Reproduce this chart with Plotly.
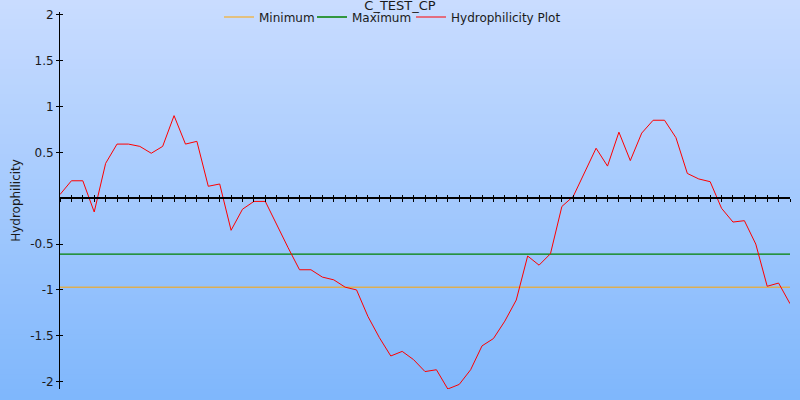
import plotly.graph_objects as go

# ---- data ----
positions = list(range(65))
hydrophilicity = [
    0.04, 0.19, 0.19, -0.15, 0.38, 0.59, 0.59, 0.565, 0.49, 0.565,
    0.90, 0.59, 0.62, 0.13, 0.155, -0.35, -0.12, -0.035, -0.035, -0.29,
    -0.54, -0.78, -0.78, -0.86, -0.89, -0.97, -1.00, -1.29, -1.52, -1.72,
    -1.67, -1.76, -1.89, -1.87, -2.08, -2.03, -1.87, -1.61, -1.53, -1.34,
    -1.11, -0.63, -0.73, -0.605, -0.09, 0.02, 0.29, 0.545, 0.35, 0.72,
    0.41, 0.71, 0.85, 0.85, 0.66, 0.27, 0.21, 0.18, -0.11, -0.26,
    -0.245, -0.50, -0.96, -0.925, -1.15,
]
minimum_value = -0.97
maximum_value = -0.61
y_tick_values = [-2, -1.5, -1, -0.5, 0.5, 1, 1.5, 2]
y_tick_labels = ["-2", "-1.5", "-1", "-0.5", "0.5", "1", "1.5", "2"]
title_text = "C_TEST_CP"
y_title = "Hydrophilicity"
series_names = ["Minimum", "Maximum", "Hydrophilicity Plot"]
series_colors = ["#ffa500", "#008000", "#ff0000"]

# ---- layout constants ----
W, H = 800, 400
M_T, M_B, M_L, M_R = 12, 11, 60, 10
Y_RANGE = [-2.08, 2.03]
X_RANGE = [positions[0], positions[-1]]
plot_h = H - M_T - M_B
zero_pos = (0 - Y_RANGE[0]) / (Y_RANGE[1] - Y_RANGE[0])
legend_x_px = [219, 312, 411]

FONT = "DejaVu Sans"
TXT = "#1a1a1a"

fig = go.Figure()

fig.add_trace(go.Scatter(
    x=[positions[0], positions[-1]], y=[minimum_value, minimum_value],
    mode="lines", name=series_names[0], legend="legend",
    line=dict(color=series_colors[0], width=1),
))
fig.add_trace(go.Scatter(
    x=[positions[0], positions[-1]], y=[maximum_value, maximum_value],
    mode="lines", name=series_names[1], legend="legend2",
    line=dict(color=series_colors[1], width=1.3),
))
fig.add_trace(go.Scatter(
    x=positions, y=hydrophilicity,
    mode="lines", name=series_names[2], legend="legend3",
    line=dict(color=series_colors[2], width=1),
))
# invisible helper trace so the overlay axes (inside ticks) are rendered
fig.add_trace(go.Scatter(
    x=[None], y=[None], xaxis="x2", yaxis="y2", showlegend=False,
    hoverinfo="skip", mode="lines",
))

# gradient background bands
N = 80
top = (201, 220, 255)
bot = (127, 183, 252)
p_bottom = -M_B / plot_h
p_top = 1 + M_T / plot_h
shapes = []
for i in range(N):
    t = i / (N - 1)
    c = tuple(round(top[k] + (bot[k] - top[k]) * t) for k in range(3))
    y1 = p_top - (p_top - p_bottom) * i / N
    y0 = p_top - (p_top - p_bottom) * (i + 1) / N
    if i == 0:
        y1 += 0.05
    if i == N - 1:
        y0 -= 0.05
    shapes.append(dict(
        type="rect", xref="paper", yref="paper",
        x0=-M_L / (W - M_L - M_R) - 0.01, x1=1 + M_R / (W - M_L - M_R) + 0.01,
        y0=y0 - 0.002, y1=y1 + 0.002,
        fillcolor=f"rgb{c}", line=dict(width=0), layer="below",
    ))

axis_common = dict(showgrid=False, zeroline=False, automargin=False)


def legend_at(px):
    return dict(orientation="h", x=px / W, xanchor="left", xref="container",
                y=1 - 17 / H, yanchor="middle", yref="container",
                bgcolor="rgba(0,0,0,0)", borderwidth=0,
                font=dict(family=FONT, size=12, color=TXT), itemwidth=30)


fig.update_layout(
    width=W, height=H,
    margin=dict(l=M_L, r=M_R, t=M_T, b=M_B, autoexpand=False),
    paper_bgcolor="rgb(165,202,254)",
    plot_bgcolor="rgba(0,0,0,0)",
    shapes=shapes,
    font=dict(family=FONT, size=12, color=TXT),
    title=dict(text=title_text, x=0.5, xanchor="center", xref="container",
               y=1 - 5 / H, yanchor="middle", yref="container", pad=dict(t=0, b=0),
               font=dict(family=FONT, size=13, color=TXT)),
    legend=legend_at(legend_x_px[0]),
    legend2=legend_at(legend_x_px[1]),
    legend3=legend_at(legend_x_px[2]),
    xaxis=dict(range=X_RANGE, anchor="free", position=zero_pos,
               showline=True, linecolor="black", linewidth=1.6,
               ticks="outside", ticklen=3, tickwidth=1.3, tickcolor="black",
               dtick=1, tick0=0, showticklabels=False, **axis_common),
    xaxis2=dict(range=X_RANGE, anchor="free", position=zero_pos, overlaying="x",
                showline=False, ticks="inside", ticklen=3, tickwidth=1.3,
                tickcolor="black", dtick=1, tick0=0, showticklabels=False,
                **axis_common),
    yaxis=dict(range=Y_RANGE, showline=True, linecolor="black", linewidth=1,
               ticks="outside", ticklen=3, tickcolor="black",
               tickvals=y_tick_values, ticktext=y_tick_labels,
               title=dict(text=y_title, standoff=6,
                          font=dict(family=FONT, size=12, color=TXT)),
               **axis_common),
    yaxis2=dict(range=Y_RANGE, overlaying="y", anchor="x", side="left",
                showline=False, ticks="inside", ticklen=3, tickcolor="black",
                tickvals=y_tick_values, showticklabels=False, **axis_common),
)

fig.write_html("out.html",
               config={"displayModeBar": False},
               post_script="document.body.style.margin='0';document.body.style.padding='0';")
